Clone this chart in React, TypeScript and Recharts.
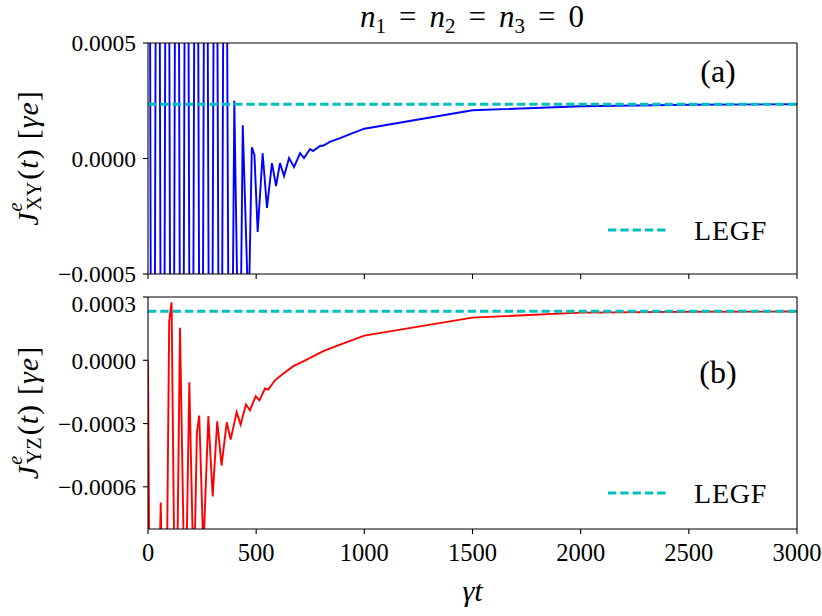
import { Legend, Line, LineChart, XAxis, YAxis } from 'recharts'

const FONT = "'Liberation Serif', 'DejaVu Serif'"

const timeTicks = [0, 500, 1000, 1500, 2000, 2500, 3000]
const xyTicks = [-0.0005, 0, 0.0005]
const yzTicks = [-0.0006, -0.0003, 0, 0.0003]

// panel (a): J_XY
const xyTime = [
  0, 22, 45, 67, 89, 111, 134, 156, 178, 200, 223, 245, 267, 289, 312, 334, 356, 379,
  399, 423, 438, 465, 480, 492, 507, 530, 550, 573, 592, 610, 629, 652, 675, 703, 721,
  749, 763, 795, 812, 840, 888, 940, 1000, 1500, 2000, 2500, 3000,
]
const xyValue = [
  0.0042, -0.0041, 0.004, -0.0039, 0.0038, -0.0037, 0.0036, -0.0035, 0.0034, -0.0033,
  0.0032, -0.0031, 0.003, -0.0029, 0.0028, -0.0027, 0.0026, -0.0022,
  0.00025, -0.0012, 0.000144, -0.0007, 0.000049, 0.000015, -0.000318, 0.000022, -0.000214,
  -0.00002, -0.000119, -0.00002, -0.000076, 0.000002, -0.000037, 0.000023, 0.000002,
  0.000041, 0.000032, 0.000054, 0.000056, 0.000072, 0.000088, 0.000108, 0.000129,
  0.000209, 0.000226, 0.000233, 0.000235,
]
const legfXY = 0.000235

// panel (b): J_YZ
const yzTime = [
  0, 18, 40, 59, 78, 98, 109, 128, 148, 172, 191, 212, 226, 237, 256, 279, 299, 320, 340,
  364, 382, 410, 428, 453, 471, 498, 515, 541, 556, 587, 626, 672, 718, 810, 888, 1000,
  1500, 2000, 2500, 3000,
]
const yzValue = [
  0.0, -0.003, -0.0016, -0.000674, -0.002, 0.000185, 0.000275, -0.0016, 0.000154, -0.0013,
  -0.000104, -0.0011, -0.000343, -0.000262, -0.0009, -0.000265, -0.000646, -0.000289,
  -0.000499, -0.000294, -0.000376, -0.000246, -0.000305, -0.00021, -0.000237, -0.000171,
  -0.00019, -0.000134, -0.000139, -0.000095, -0.000063, -0.000028, -0.000005, 0.000043,
  0.000074, 0.000117, 0.000202, 0.000226, 0.00023, 0.000231,
]
const legfYZ = 0.000232

const xyRows = xyTime.map((t, i) => ({ t, j: xyValue[i], legf: legfXY }))
const yzRows = yzTime.map((t, i) => ({ t, j: yzValue[i], legf: legfYZ }))

const fmt = (v: number) => (v < 0 ? '\u2212' : '') + Math.abs(v).toFixed(4)

function YLabel({ viewBox, sub }: any) {
  const cx = 27
  const cy = viewBox.y + viewBox.height / 2
  return (
    <text
      x={cx}
      y={cy}
      transform={`rotate(-90, ${cx}, ${cy})`}
      textAnchor="middle"
      dominantBaseline="central"
      fontSize={30}
      fontFamily={FONT}
      fill="#000"
    >
      <tspan fontStyle="italic">J</tspan>
      <tspan fontStyle="italic" fontSize={20} dx={1} dy={-12}>e</tspan>
      <tspan fontSize={20} dx={-8} dy={19}>{sub}</tspan>
      <tspan dx={2} dy={-7}>(</tspan>
      <tspan fontStyle="italic" dx={1}>t</tspan>
      <tspan dx={1}>)</tspan>
      <tspan dx={10}>[</tspan>
      <tspan fontStyle="italic" dx={1}>γ</tspan>
      <tspan fontStyle="italic" dx={1}>e</tspan>
      <tspan dx={1}>]</tspan>
    </text>
  )
}

function XLabel({ viewBox }: any) {
  return (
    <text
      x={viewBox.x + viewBox.width / 2}
      y={viewBox.y + 61}
      textAnchor="middle"
      dominantBaseline="central"
      fontSize={30}
      fontStyle="italic"
      fontFamily={FONT}
      fill="#000"
    >
      γt
    </text>
  )
}

function LegendBox({ payload }: any) {
  const item = (payload || [])[0]
  if (!item) return null
  return (
    <svg width={180} height={30}>
      <line x1={8} x2={69} y1={15} y2={15} stroke={item.color} strokeWidth={3} strokeDasharray="8.3 4" />
      <text x={94} y={15} dominantBaseline="central" fontSize={28} letterSpacing={0.8} fontFamily={FONT} fill="#000">
        {item.value}
      </text>
    </svg>
  )
}

export default function App() {
  const axisStroke = { stroke: '#000', strokeWidth: 1.1 }
  const tickFont = { fill: '#000', fontFamily: FONT }
  return (
    <div style={{ position: 'absolute', left: 0, top: 0, width: 822, height: 616, fontFamily: FONT, background: '#fff' }}>
      <div style={{ position: 'absolute', left: 0, top: 0 }}>
        <LineChart width={822} height={290} data={xyRows} margin={{ top: 43, right: 25, bottom: 0, left: 0 }}>
          <XAxis
            dataKey="t"
            type="number"
            domain={[0, 3000]}
            ticks={timeTicks}
            allowDataOverflow
            height={16}
            tickSize={5}
            tickFormatter={() => ''}
            axisLine={axisStroke}
            tickLine={axisStroke}
          />
          <XAxis xAxisId="top" dataKey="t" type="number" domain={[0, 3000]} orientation="top" mirror tick={false} tickLine={false} axisLine={axisStroke} />
          <YAxis
            type="number"
            domain={[-0.0005, 0.0005]}
            ticks={xyTicks}
            allowDataOverflow
            width={148}
            tickSize={5}
            tickMargin={7}
            tickFormatter={fmt}
            tick={{ ...tickFont, fontSize: 23.5 }}
            axisLine={axisStroke}
            tickLine={axisStroke}
            label={{ content: (p: any) => <YLabel {...p} sub="XY" /> }}
          />
          <YAxis yAxisId="right" type="number" domain={[-0.0005, 0.0005]} orientation="right" mirror tick={false} tickLine={false} axisLine={axisStroke} />
          <Line dataKey="j" type="linear" stroke="#0000ff" strokeWidth={1.9} dot={false} legendType="none" isAnimationActive={false} />
          <Line dataKey="legf" name="LEGF" type="linear" stroke="#00bfbf" strokeWidth={3} strokeDasharray="8.3 4" dot={false} legendType="plainline" isAnimationActive={false} />
          <Legend layout="vertical" align="center" verticalAlign="middle" content={<LegendBox />} wrapperStyle={{ left: 600, top: 215, width: 180 }} />
          <text x={472} y={27} textAnchor="middle" fontSize={31} fontFamily={FONT} fill="#000">
            <tspan fontStyle="italic">n</tspan>
            <tspan fontSize={21} dy={6}>1</tspan>
            <tspan dx={13} dy={-6}>=</tspan>
            <tspan dx={13} fontStyle="italic">n</tspan>
            <tspan fontSize={21} dy={6}>2</tspan>
            <tspan dx={13} dy={-6}>=</tspan>
            <tspan dx={13} fontStyle="italic">n</tspan>
            <tspan fontSize={21} dy={6}>3</tspan>
            <tspan dx={13} dy={-6}>=</tspan>
            <tspan dx={13}>0</tspan>
          </text>
          <text x={718} y={71} textAnchor="middle" dominantBaseline="central" fontSize={32} fontFamily={FONT} fill="#000">(a)</text>
        </LineChart>
      </div>
      <div style={{ position: 'absolute', left: 0, top: 290 }}>
        <LineChart width={822} height={326} data={yzRows} margin={{ top: 7, right: 25, bottom: 0, left: 0 }}>
          <XAxis
            dataKey="t"
            type="number"
            domain={[0, 3000]}
            ticks={timeTicks}
            allowDataOverflow
            height={87}
            tickSize={5}
            tickMargin={10}
            tick={{ ...tickFont, fontSize: 24.5 }}
            axisLine={axisStroke}
            tickLine={axisStroke}
            label={{ content: (p: any) => <XLabel {...p} /> }}
          />
          <XAxis xAxisId="top" dataKey="t" type="number" domain={[0, 3000]} orientation="top" mirror tick={false} tickLine={false} axisLine={axisStroke} />
          <YAxis
            type="number"
            domain={[-0.0008, 0.0003]}
            ticks={yzTicks}
            allowDataOverflow
            width={148}
            tickSize={5}
            tickMargin={7}
            tickFormatter={fmt}
            tick={{ ...tickFont, fontSize: 23.5 }}
            axisLine={axisStroke}
            tickLine={axisStroke}
            label={{ content: (p: any) => <YLabel {...p} sub="YZ" /> }}
          />
          <YAxis yAxisId="right" type="number" domain={[-0.0008, 0.0003]} orientation="right" mirror tick={false} tickLine={false} axisLine={axisStroke} />
          <Line dataKey="j" type="linear" stroke="#ff0000" strokeWidth={1.9} dot={false} legendType="none" isAnimationActive={false} />
          <Line dataKey="legf" name="LEGF" type="linear" stroke="#00bfbf" strokeWidth={3} strokeDasharray="8.3 4" dot={false} legendType="plainline" isAnimationActive={false} />
          <Legend layout="vertical" align="center" verticalAlign="middle" content={<LegendBox />} wrapperStyle={{ left: 600, top: 188, width: 180 }} />
          <text x={718} y={82} textAnchor="middle" dominantBaseline="central" fontSize={32} fontFamily={FONT} fill="#000">(b)</text>
        </LineChart>
      </div>
    </div>
  )
}
